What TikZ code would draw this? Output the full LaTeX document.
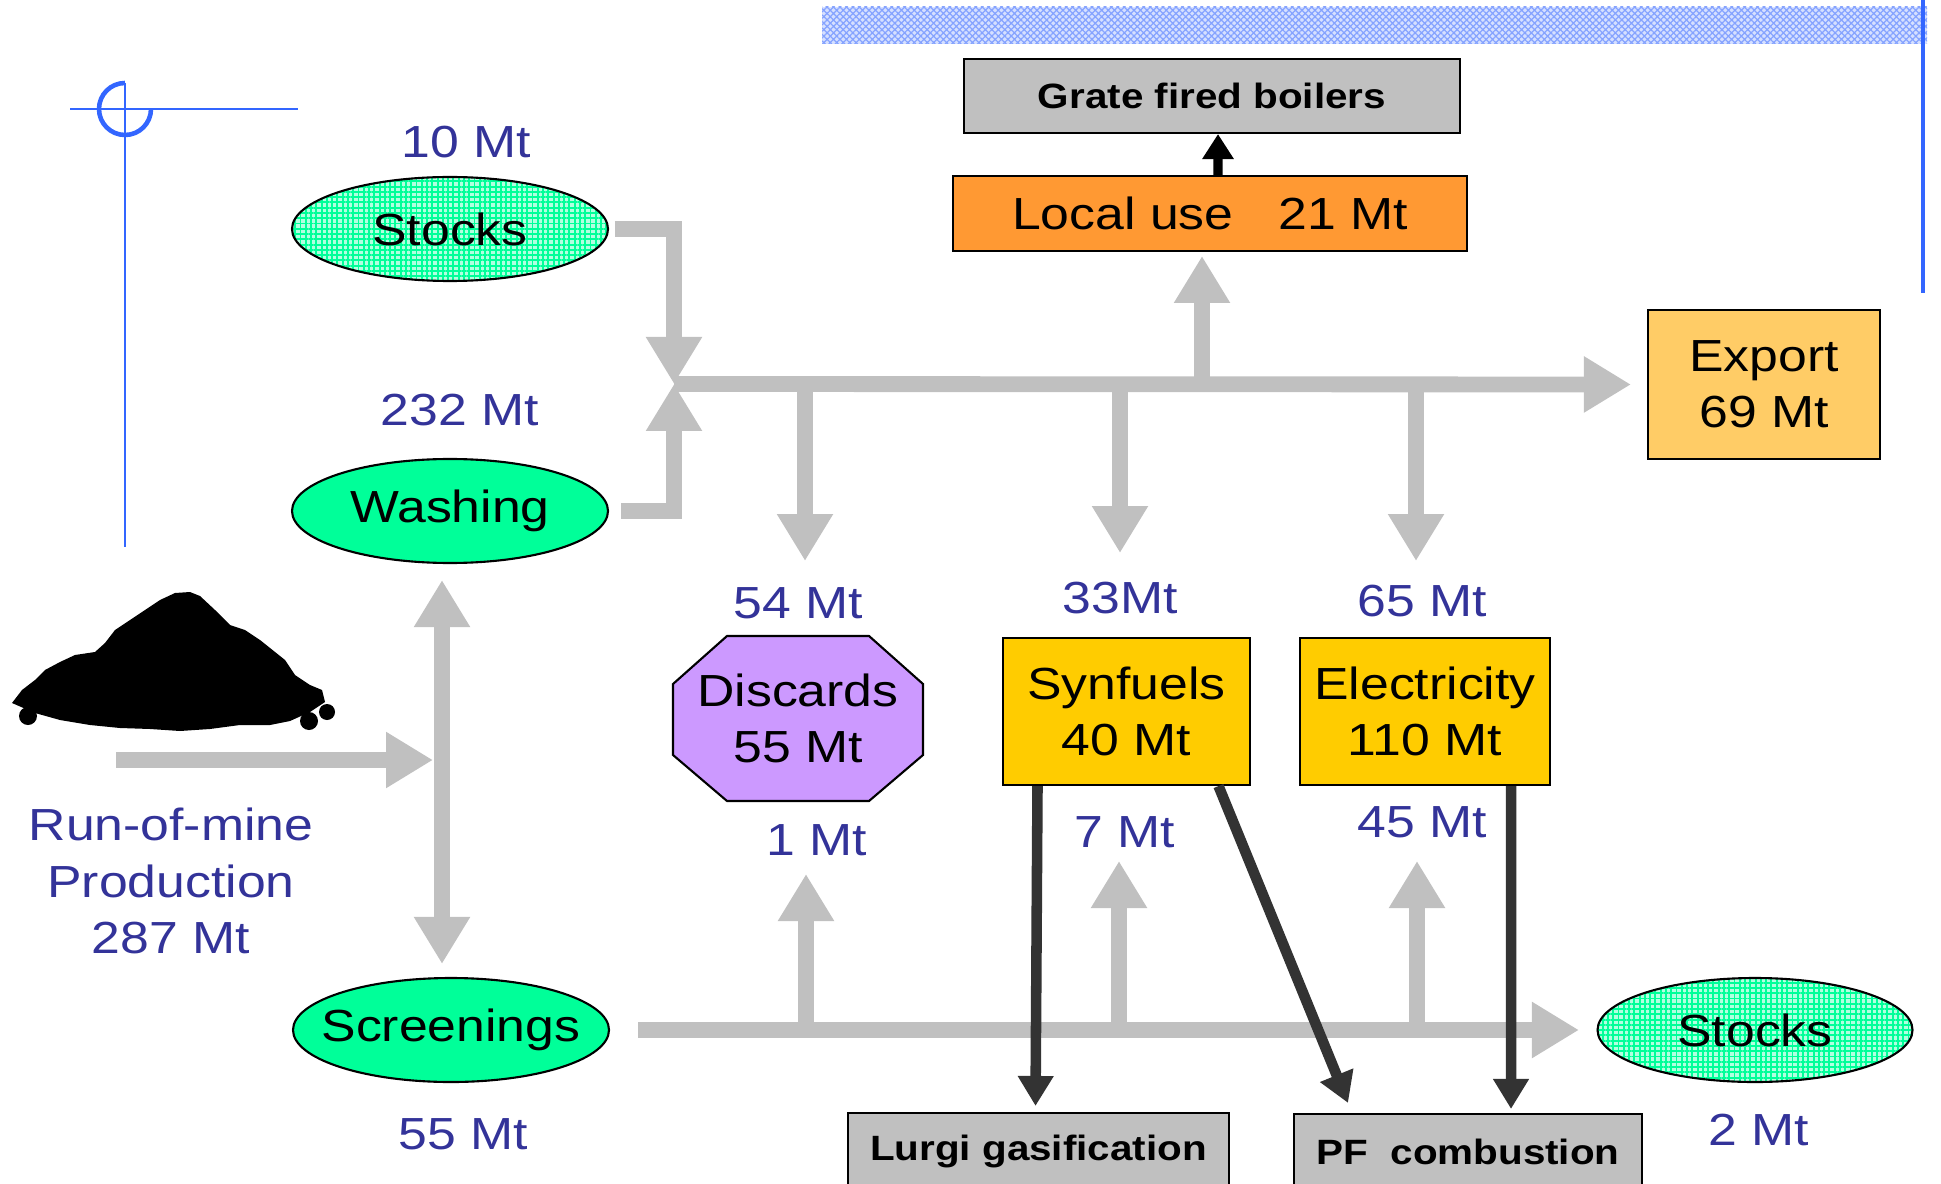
\documentclass[tikz,border=0pt]{standalone}
\usepackage{fontspec}
\setmainfont[FakeStretch=1.15]{Liberation Sans}
\usepackage{tikz}
\usetikzlibrary{shapes}
\usetikzlibrary{patterns.meta}
\usetikzlibrary{arrows.meta}
\definecolor{flowgray}{HTML}{C0C0C0}
\definecolor{labelblue}{HTML}{333399}
\definecolor{springgreen}{HTML}{00FF99}
\definecolor{localorange}{HTML}{FF9933}
\definecolor{exportyellow}{HTML}{FFCC66}
\definecolor{useyellow}{HTML}{FFCC00}
\definecolor{discardviolet}{HTML}{CC99FF}
\definecolor{guideblue}{HTML}{3366FF}
\definecolor{darkarrow}{HTML}{333333}

\begin{document}
\begin{tikzpicture}[scale=1,
  every node/.style={font=\fontsize{12.8}{16}\selectfont},
  flow/.style={flowgray, line width=4.5pt, line join=miter, -{Triangle[width=5.3mm,length=4.7mm]}},
  flowboth/.style={flow, {Triangle[width=5.3mm,length=4.7mm]}-{Triangle[width=5.3mm,length=4.7mm]}},
  feed/.style={darkarrow, line width=3pt, -{Triangle[width=3.4mm,length=3mm]}},
  amount/.style={text=labelblue},
  oval/.style={ellipse, draw, semithick, minimum width=3.16cm, minimum height=1.04cm, inner xsep=-4mm, inner ysep=0pt},
  stock/.style={oval, preaction={fill=springgreen!30}, pattern={Hatch[angle=0,distance=1.5pt,line width=0.55pt]}, pattern color=springgreen},
  plant/.style={draw, semithick, fill=flowgray, font=\fontsize{10}{12}\selectfont\bfseries, inner sep=0pt},
  sector/.style={draw, semithick, align=center, inner sep=0pt}]
\useasboundingbox (0,0) rectangle (19.41,11.83);
\clip (0,0) rectangle (19.41,11.83);

\fill[preaction={fill=guideblue!20}, pattern={Hatch[angle=45,distance=1.3pt,line width=0.35pt]}, pattern color=guideblue!60] (8.22,11.39) rectangle (19.27,11.76);
\draw[guideblue, line width=1pt] (19.23,11.83) -- (19.23,8.90);
\draw[guideblue, line width=0.7pt] (0.70,10.74) -- (2.98,10.74);
\draw[guideblue, line width=0.7pt] (1.25,11.00) -- (1.25,6.36);
\draw[guideblue, line width=1.3pt] (1.25,11.00) arc (90:360:0.26);

\fill[black] (0.12,4.80) -- (0.22,4.93) -- (0.35,5.03) -- (0.45,5.13) -- (0.60,5.21) -- (0.75,5.28) -- (0.95,5.31) -- (1.05,5.40) -- (1.15,5.53) -- (1.30,5.63) -- (1.45,5.73) -- (1.60,5.83) -- (1.75,5.90) -- (1.90,5.91) -- (2.00,5.87) -- (2.15,5.73) -- (2.30,5.58) -- (2.45,5.53) -- (2.60,5.43) -- (2.75,5.31) -- (2.85,5.23) -- (2.95,5.08) -- (3.10,4.98) -- (3.22,4.93) -- (3.25,4.81) -- (3.10,4.71) -- (2.90,4.62) -- (2.70,4.58) -- (2.40,4.58) -- (2.10,4.54) -- (1.80,4.52) -- (1.50,4.54) -- (1.20,4.55) -- (0.90,4.58) -- (0.60,4.63) -- (0.35,4.70) -- cycle;
\fill[black] (0.28,4.67) circle (0.09) (3.09,4.62) circle (0.09) (3.27,4.71) circle (0.08);

\node[stock] (stocksA) at (4.50,9.54) {Stocks};
\node[oval, fill=springgreen] (washing) at (4.50,6.72) {Washing};
\node[oval, fill=springgreen] (screenings) at (4.51,1.53) {Screenings};
\node[stock, minimum width=3.15cm] (stocksB) at (17.55,1.53) {Stocks};
\node[plant, minimum width=4.96cm, minimum height=0.74cm] (grate) at (12.12,10.87) {Grate fired boilers};
\node[sector, fill=localorange, minimum width=5.14cm, minimum height=0.75cm] (local) at (12.10,9.695) {Local use\quad 21 Mt};
\node[sector, fill=exportyellow, minimum width=2.32cm, minimum height=1.49cm] (export) at (17.64,7.985) {Export\\69 Mt};
\node[sector, fill=useyellow, minimum width=2.47cm, minimum height=1.47cm] (synfuels) at (11.265,4.715) {Synfuels\\40 Mt};
\node[sector, fill=useyellow, minimum width=2.50cm, minimum height=1.47cm] (electricity) at (14.25,4.715) {Electricity\\110 Mt};
\draw[semithick, fill=discardviolet] (7.27,5.47) -- (8.69,5.47) -- (9.23,4.99) -- (9.23,4.28) -- (8.69,3.82) -- (7.27,3.82) -- (6.73,4.28) -- (6.73,4.99) -- cycle;
\node[align=center] (discards) at (7.98,4.645) {Discards\\55 Mt};
\node[plant, minimum width=3.81cm, minimum height=0.76cm] (lurgi) at (10.385,0.32) {Lurgi gasification};
\node[plant, minimum width=3.48cm, minimum height=0.76cm] (pf) at (14.68,0.31) {PF\ \ combustion};

\node[amount] (lab10) at (4.66,10.41) {10 Mt};
\node[amount] (lab232) at (4.60,7.73) {232 Mt};
\node[amount] (lab54) at (7.98,5.80) {54 Mt};
\node[amount] (lab33) at (11.20,5.85) {33Mt};
\node[amount] (lab65) at (14.22,5.82) {65 Mt};
\node[amount] (lab1) at (8.17,3.43) {1 Mt};
\node[amount] (lab7) at (11.25,3.51) {7 Mt};
\node[amount] (lab45) at (14.22,3.61) {45 Mt};
\node[amount] (lab2) at (17.59,0.53) {2 Mt};
\node[amount] (lab55) at (4.63,0.49) {55 Mt};
\node[amount, align=center] (rom) at (1.71,3.02) {Run-of-mine\\Production\\287 Mt};

\coordinate (hub) at (6.74,7.99);
\coordinate (tapA) at (8.05,7.99);
\coordinate (tapB) at (11.20,7.99);
\coordinate (tapC) at (14.16,7.99);
\coordinate (tapL) at (12.02,7.99);
\coordinate (endA) at (8.05,6.22);
\coordinate (endB) at (11.20,6.30);
\coordinate (endC) at (14.16,6.22);
\coordinate (endL) at (12.02,9.27);
\coordinate (lowA) at (8.06,1.51);
\coordinate (lowB) at (11.19,1.51);
\coordinate (lowC) at (14.17,1.51);
\coordinate (upA) at (8.06,3.09);
\coordinate (upB) at (11.19,3.22);
\coordinate (upC) at (14.17,3.22);
\coordinate (rominput) at (1.16,4.23);
\coordinate (split) at (4.33,4.23);

\draw[flow] ([xshift=0.6mm]stocksA.east) -| (hub);
\draw[flow] ([xshift=1.2mm]washing.east) -| (hub);
\draw[flow] (hub) -- ([xshift=-1.6mm]export.west);
\draw[flow] (tapA) -- (endA);
\draw[flow] (tapB) -- (endB);
\draw[flow] (tapC) -- (endC);
\draw[flow] (tapL) -- (endL);
\draw[flow] ([xshift=2.8mm]screenings.east) -- ([xshift=-1.75mm]stocksB.west);
\draw[flow] (lowA) -- (upA);
\draw[flow] (lowB) -- (upB);
\draw[flow] (lowC) -- (upC);
\draw[flow] (rominput) -- (split);
\draw[flowboth] ([xshift=-0.8mm,yshift=-1.6mm]washing.south) -- ([xshift=-0.9mm,yshift=1.3mm]screenings.north);

\draw[feed] ([xshift=-8.9mm]synfuels.south) -- ([xshift=-0.3mm,yshift=0.6mm]lurgi.north);
\draw[feed] ([xshift=9.2mm]synfuels.south) -- ([xshift=-12mm,yshift=1mm]pf.north);
\draw[feed] ([xshift=8.6mm]electricity.south) -- ([xshift=4.3mm,yshift=0.4mm]pf.north);
\draw[black, line width=2.6pt, -{Triangle[width=3mm,length=2.5mm]}] ([xshift=0.8mm]local.north) -- ([xshift=0.6mm]grate.south);
\end{tikzpicture}
\end{document}
